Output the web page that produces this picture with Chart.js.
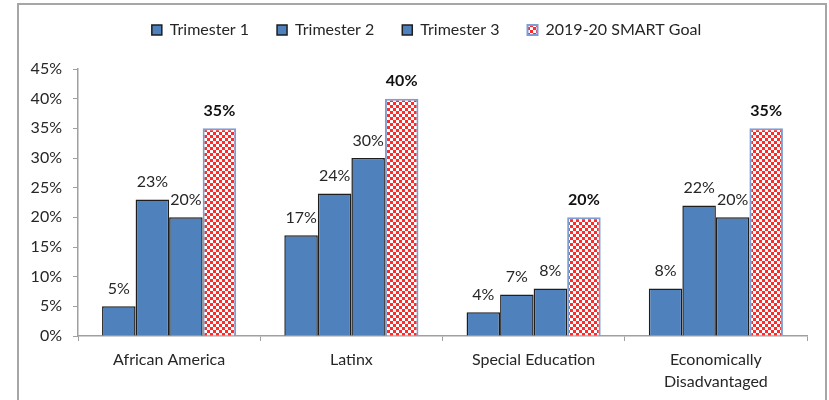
<!DOCTYPE html>
<html>
<head>
<meta charset="utf-8">
<script src="https://cdn.jsdelivr.net/npm/chart.js@4.4.1/dist/chart.umd.min.js"></script>
<style>
  html, body { margin: 0; padding: 0; background: #fff; }
  #wrap { position: relative; width: 829px; height: 400px; }
  #frame { position: absolute; left: 17px; top: 3px; width: 810px; height: 410px; border: 2px solid #a6a6a6; box-sizing: border-box; pointer-events: none; }
  canvas { position: absolute; left: 0; top: 0; }
</style>
</head>
<body>
<div id="wrap">
  <canvas id="c" width="829" height="400"></canvas>
  <div id="frame"></div>
</div>
<script>
const categories = ['African America', 'Latinx', 'Special Education', ['Economically', 'Disadvantaged']];
const seriesNames = ['Trimester 1', 'Trimester 2', 'Trimester 3', '2019-20 SMART Goal'];
const trimester1 = [5, 17, 4, 8];
const trimester2 = [23, 24, 7, 22];
const trimester3 = [20, 30, 8, 20];
const smartGoal = [35, 40, 20, 35];
const yTicks = [0, 5, 10, 15, 20, 25, 30, 35, 40, 45];

const FONT = 'Lato, "Open Sans", sans-serif';
const TEXT = '#262626';
const BLUE = '#4f81bd';
const DARK = '#1e1e1e';

function makePattern() {
  const p = document.createElement('canvas');
  p.width = 6; p.height = 6;
  const g = p.getContext('2d');
  g.fillStyle = '#ff2b2b';
  g.fillRect(0, 0, 6, 6);
  g.fillStyle = '#ffffff';
  g.fillRect(0, 0, 3, 3);
  g.fillRect(3, 3, 3, 3);
  return document.getElementById('c').getContext('2d').createPattern(p, 'repeat');
}
const pattern = makePattern();

const labelPlugin = {
  id: 'barLabels',
  beforeUpdate(chart) {
    const lg = chart.legend;
    if (lg && !lg._patched) {
      lg._patched = true;
      const f = lg.fit;
      lg.fit = function () { f.call(this); this.height = 69; };
      const d = lg.draw;
      lg.draw = function () {
        const ctx = this.ctx;
        ctx.save();
        ctx.translate(23, -6);
        d.apply(this, arguments);
        ctx.restore();
      };
    }
  },
  afterDatasetsDraw(chart) {
    const ctx = chart.ctx;
    ctx.save();
    ctx.textAlign = 'center';
    ctx.textBaseline = 'middle';
    chart.data.datasets.forEach((ds, i) => {
      const meta = chart.getDatasetMeta(i);
      ctx.font = (i === 3 ? 'bold ' : '') + '16px ' + FONT;
      ctx.fillStyle = i === 3 ? '#111' : TEXT;
      meta.data.forEach((bar, j) => {
        ctx.fillText(ds.data[j] + '%', bar.x, bar.y - 17.5);
      });
    });
    ctx.restore();
  }
};

const blueDs = (label, data) => ({
  label, data,
  backgroundColor: BLUE,
  borderColor: DARK,
  borderWidth: 1.5,
});

new Chart(document.getElementById('c'), {
  type: 'bar',
  data: {
    labels: categories,
    datasets: [
      blueDs(seriesNames[0], trimester1),
      blueDs(seriesNames[1], trimester2),
      blueDs(seriesNames[2], trimester3),
      { label: seriesNames[3], data: smartGoal, backgroundColor: pattern, borderColor: '#7b9ed6', borderWidth: 2 }
    ]
  },
  options: {
    responsive: false,
    animation: false,
    devicePixelRatio: 1,
    layout: { padding: { top: 0, left: 0, right: 22, bottom: 0 } },
    datasets: { bar: { categoryPercentage: 0.736, barPercentage: 1.0 } },
    plugins: {
      tooltip: { enabled: false },
      legend: {
        position: 'top',
        labels: {
          font: { family: FONT, size: 16 },
          color: TEXT,
          boxWidth: 10,
          boxHeight: 10,
          padding: 28
        }
      }
    },
    scales: {
      x: {
        afterFit(s) { s.height = 64; },
        grid: { display: true, drawOnChartArea: false, drawTicks: true, tickLength: 5, offset: true, color: '#a0a0a0' },
        border: { color: '#a0a0a0', width: 1.5 },
        ticks: { font: { family: FONT, size: 16, lineHeight: 1.35 }, color: TEXT, padding: 8, maxRotation: 0 }
      },
      y: {
        min: 0, max: 45,
        afterFit(s) { s.width = 78; },
        afterBuildTicks(s) { s.ticks = yTicks.map(v => ({ value: v })); },
        grid: { display: true, drawOnChartArea: false, drawTicks: true, tickLength: 5, color: '#a0a0a0' },
        border: { color: '#a0a0a0', width: 1.5 },
        ticks: { font: { family: FONT, size: 16 }, color: TEXT, padding: 11, callback: v => v + '%' }
      }
    }
  },
  plugins: [labelPlugin]
});
</script>
</body>
</html>
